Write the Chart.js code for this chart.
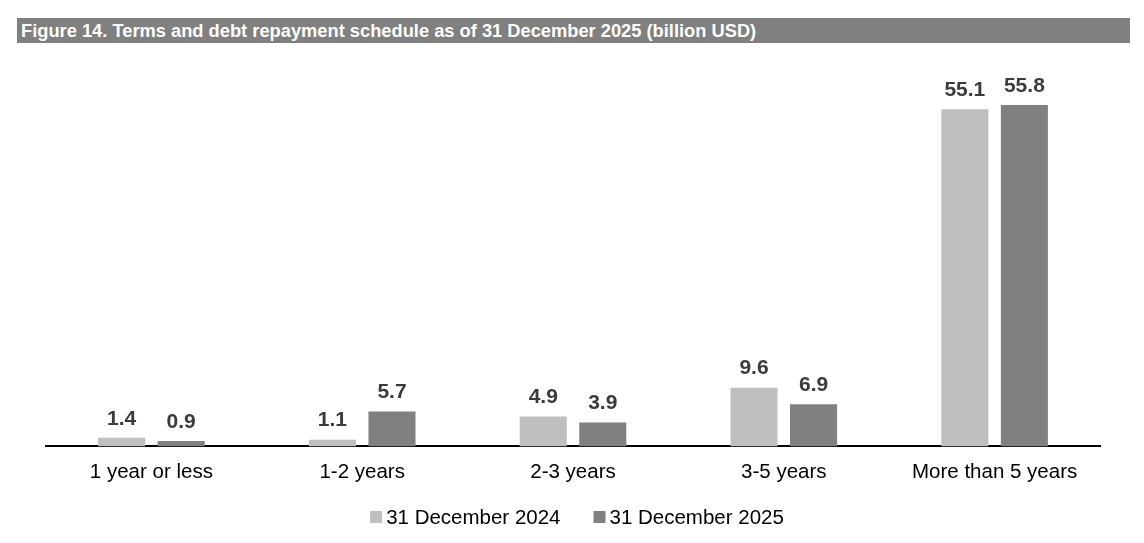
<!DOCTYPE html>
<html>
<head>
<meta charset="utf-8">
<script src="https://cdn.jsdelivr.net/npm/chart.js@4"></script>
<style>
  html, body { margin:0; padding:0; background:#fff; }
  #wrap { position:relative; width:1144px; height:543px; }
  #title { position:absolute; left:17px; top:18px; width:1113px; height:25px; background:#808080;
           color:#fff; font-family:"Liberation Sans", Arial, sans-serif; font-weight:bold; font-size:18.3px;
           line-height:25px; padding-left:4px; box-sizing:border-box; white-space:nowrap; }
  canvas { position:absolute; left:0; top:0; }
</style>
</head>
<body>
<div id="wrap">
  <canvas id="c" width="1144" height="543"></canvas>
  <div id="title">Figure 14. Terms and debt repayment schedule as of 31 December 2025 (billion USD)</div>
</div>
<script>
const categories = ["1 year or less", "1-2 years", "2-3 years", "3-5 years", "More than 5 years"];
const seriesNames = ["31 December 2024", "31 December 2025"];
const values2024 = [1.4, 1.1, 4.9, 9.6, 55.1];
const values2025 = [0.9, 5.7, 3.9, 6.9, 55.8];
const colors = ["#BFBFBF", "#808080"];

const FONT = '"Liberation Sans", Arial, sans-serif';

const valueLabels = {
  id: 'valueLabels',
  afterDatasetsDraw(chart) {
    const ctx = chart.ctx;
    ctx.save();
    ctx.font = 'bold 21px ' + FONT;
    ctx.fillStyle = '#3B3B3B';
    ctx.textAlign = 'center';
    ctx.textBaseline = 'middle';
    chart.data.datasets.forEach((ds, i) => {
      const meta = chart.getDatasetMeta(i);
      meta.data.forEach((bar, j) => {
        ctx.fillText(ds.data[j].toFixed(1), bar.x, bar.y - 19);
      });
    });
    ctx.restore();
  }
};

const bottomLegend = {
  id: 'bottomLegend',
  afterDraw(chart) {
    const ctx = chart.ctx;
    ctx.save();
    ctx.font = '20.5px ' + FONT;
    ctx.textBaseline = 'middle';
    ctx.textAlign = 'left';
    const ds = chart.data.datasets;
    const box = 12, gapText = 4, gapItem = 33, cy = 517, cx = 577;
    const widths = ds.map(d => box + gapText + ctx.measureText(d.label).width);
    const total = widths.reduce((a, b) => a + b, 0) + gapItem * (ds.length - 1);
    let x = cx - total / 2;
    ds.forEach((d, i) => {
      ctx.fillStyle = d.backgroundColor;
      ctx.fillRect(x, cy - box / 2, box, box);
      ctx.fillStyle = '#000';
      ctx.fillText(d.label, x + box + gapText, cy + 1);
      x += widths[i] + gapItem;
    });
    ctx.restore();
  }
};

new Chart(document.getElementById('c'), {
  type: 'bar',
  data: {
    labels: categories,
    datasets: [
      { label: seriesNames[0], data: values2024, backgroundColor: colors[0] },
      { label: seriesNames[1], data: values2025, backgroundColor: colors[1] }
    ]
  },
  options: {
    responsive: false,
    animation: false,
    devicePixelRatio: 1,
    categoryPercentage: 0.565,
    barPercentage: 0.79,
    layout: { padding: { top: 67, left: 46, right: 44, bottom: 44 } },
    plugins: {
      tooltip: { enabled: false },
      legend: { display: false }
    },
    scales: {
      y: { display: false, min: 0, max: 62 },
      x: {
        grid: { display: false, drawTicks: false },
        border: { display: true, color: '#000', width: 2 },
        ticks: { color: '#000', padding: 14, font: { family: FONT, size: 20.5 } }
      }
    }
  },
  plugins: [valueLabels, bottomLegend]
});
</script>
</body>
</html>
